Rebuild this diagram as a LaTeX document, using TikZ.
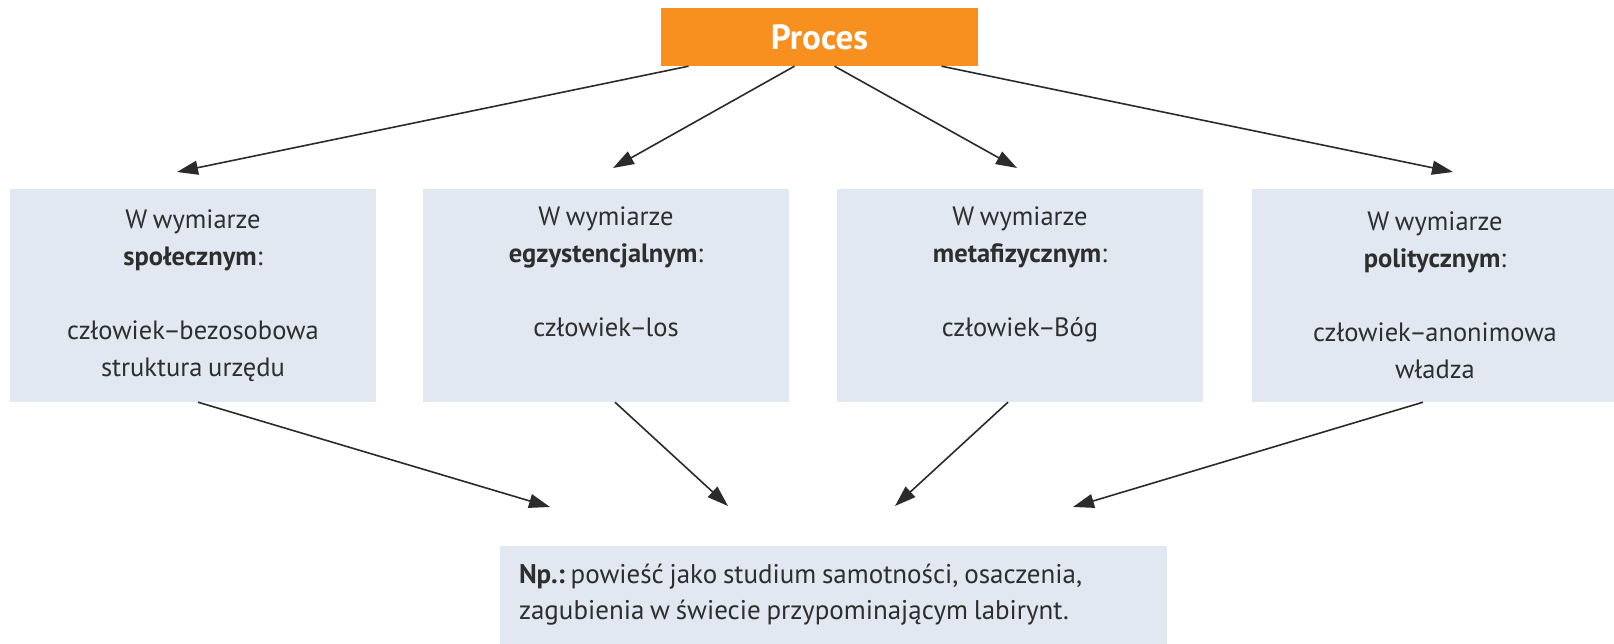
\documentclass[tikz,border=0pt]{standalone}
\usepackage{fontspec}
\setmainfont{PT Sans}[WordSpace=0.8]
\usetikzlibrary{arrows.meta}
\definecolor{boxfill}{HTML}{E1E8F1}
\definecolor{procorange}{HTML}{F7901E}
\definecolor{txt}{HTML}{2E2E2E}
\definecolor{arr}{HTML}{2B2B2B}
\newcommand\tdash{\kern-1.5pt–\kern-1.5pt}
\tikzset{
  procbox/.style={fill=procorange, text=white, minimum width=317pt, minimum height=58pt, inner sep=0pt,
    font=\fontsize{35}{37}\selectfont\bfseries},
  dimbox/.style={fill=boxfill, text=txt, minimum width=366pt, minimum height=213pt, inner sep=0pt,
    align=center, font=\fontsize{26.5}{37}\selectfont\frenchspacing},
  examplebox/.style={fill=boxfill, text=txt, minimum width=667pt, minimum height=98pt, inner sep=0pt,
    text width=629pt, align=flush left, font=\fontsize{27}{36}\selectfont\frenchspacing},
  conn/.style={draw=arr, line width=1.6pt, -{Triangle[length=21pt,width=14pt]}},
}
\begin{document}
\begin{tikzpicture}[x=1pt,y=-1pt]
\useasboundingbox[fill=white] (0,0) rectangle (1614,644);
\node[procbox] (proc) at (819.5,37) {Proces};
\node[dimbox] (b1) at (193,295.5) {W wymiarze\\\textbf{społecznym}:\\[37pt]człowiek\tdash bezosobowa\\struktura urzędu};
\node[dimbox] (b2) at (606,295.5) {W wymiarze\\\textbf{egzystencjalnym}:\\[37pt]człowiek\tdash los\\\strut};
\node[dimbox] (b3) at (1020,295.5) {W wymiarze\\\textbf{metafizycznym}:\\[37pt]człowiek\tdash Bóg\\\strut};
\node[dimbox] (b4) at (1435,295.5) {W wymiarze\\\textbf{politycznym}:\\[37pt]człowiek\tdash anonimowa\\władza};
\node[examplebox] (ex) at (833.5,595) {\textbf{Np.:} powieść jako studium samotności, osaczenia,\\zagubienia w świecie przypominającym labirynt.};
\coordinate (t1) at (177,172);
\coordinate (t2) at (613,168);
\coordinate (t3) at (1017,168);
\coordinate (t4) at (1453,172);
\coordinate (u1) at (550,507);
\coordinate (u2) at (728,506);
\coordinate (u3) at (895,506);
\coordinate (u4) at (1073,507);
\draw[conn] ([xshift=-131pt]proc.south) -- (t1);
\draw[conn] ([xshift=-25pt]proc.south) -- (t2);
\draw[conn] ([xshift=15pt]proc.south) -- (t3);
\draw[conn] ([xshift=122pt]proc.south) -- (t4);
\draw[conn] ([xshift=5pt]b1.south) -- (u1);
\draw[conn] ([xshift=9pt]b2.south) -- (u2);
\draw[conn] ([xshift=-12pt]b3.south) -- (u3);
\draw[conn] ([xshift=-12pt]b4.south) -- (u4);
\end{tikzpicture}
\end{document}
